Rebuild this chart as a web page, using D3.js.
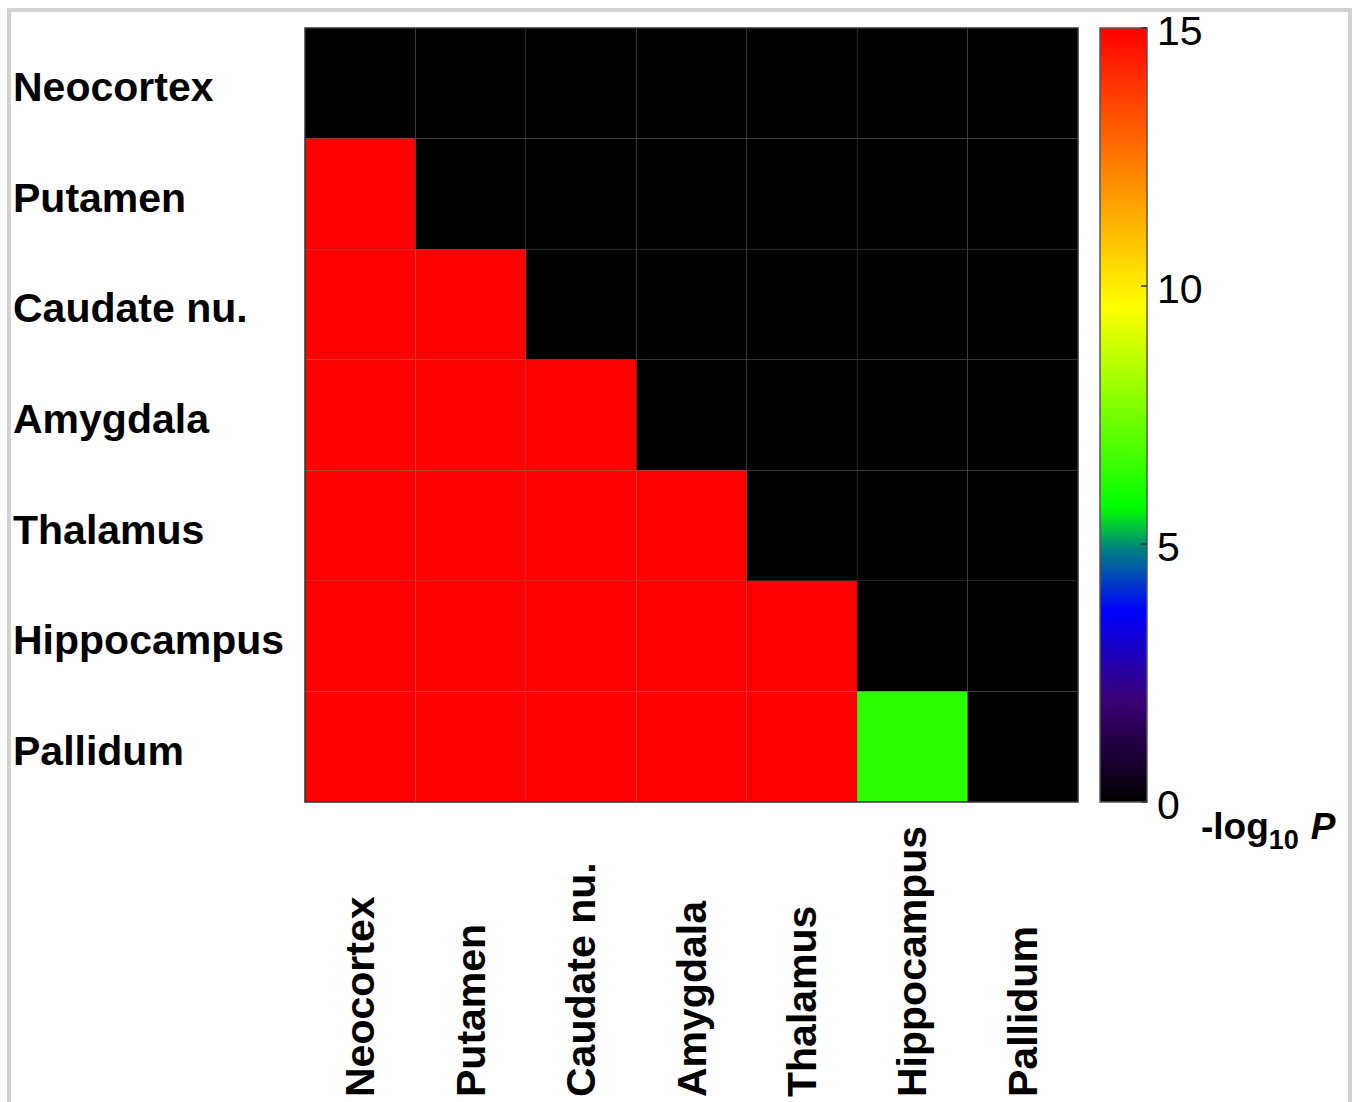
<!DOCTYPE html>
<html>
<head>
<meta charset="utf-8">
<script src="https://cdn.jsdelivr.net/npm/d3@7"></script>
<style>
  html, body { margin: 0; padding: 0; background: #fff; }
  text { font-family: "Liberation Sans", Arial, sans-serif; fill: #000; }
</style>
</head>
<body>
<div id="canvas"></div>
<script>
var regions = ['Neocortex', 'Putamen', 'Caudate nu.', 'Amygdala', 'Thalamus', 'Hippocampus', 'Pallidum']

// -log10 P, rows x columns (clamped at 15 by the colour axis)
var rowNeocortex = [0, 0, 0, 0, 0, 0, 0]
var rowPutamen = [15, 0, 0, 0, 0, 0, 0]
var rowCaudate = [15, 15, 0, 0, 0, 0, 0]
var rowAmygdala = [15, 15, 15, 0, 0, 0, 0]
var rowThalamus = [15, 15, 15, 15, 0, 0, 0]
var rowHippocampus = [15, 15, 15, 15, 15, 0, 0]
var rowPallidum = [15, 15, 15, 15, 15, 6.4, 0]

var colorTicks = [0, 5, 10, 15]
var colorStops = [0, 2, 3.7, 4.9, 5.7, 9.6, 12.3, 15]
var colorValues = ['#000000', '#3c0078', '#0000ff', '#008080', '#00ff00', '#ffff00', '#ff8000', '#ff0000']

var WIDTH = 1362
var HEIGHT = 1102

var matrix = [rowNeocortex, rowPutamen, rowCaudate, rowAmygdala, rowThalamus, rowHippocampus, rowPallidum]

var cells = []
matrix.forEach(function (row, i) {
  row.forEach(function (v, j) {
    cells.push({row: regions[i], col: regions[j], value: v})
  })
})

var svg = d3.select('#canvas').append('svg')
  .attr('width', WIDTH)
  .attr('height', HEIGHT)

// light grey frame of the original figure
svg.append('path')
  .attr('d', 'M9,' + HEIGHT + 'V10H1350V' + HEIGHT)
  .attr('fill', 'none')
  .attr('stroke', '#d2d2d2')
  .attr('stroke-width', 4)

var x = d3.scaleBand().domain(regions).range([305, 1078])
var y = d3.scaleBand().domain(regions).range([28, 802])

var color = d3.scaleLinear()
  .domain(colorStops)
  .range(colorValues)
  .clamp(true)

var heat = svg.append('g')

heat.selectAll('rect.cell')
  .data(cells)
  .enter().append('rect')
  .attr('class', 'cell')
  .attr('x', function (d) { return x(d.col) })
  .attr('y', function (d) { return y(d.row) })
  .attr('width', x.bandwidth())
  .attr('height', y.bandwidth())
  .attr('fill', function (d) { return color(d.value) })

// faint grid between cells
heat.selectAll('line.vgrid')
  .data(regions.slice(1))
  .enter().append('line')
  .attr('x1', function (d) { return x(d) })
  .attr('x2', function (d) { return x(d) })
  .attr('y1', 28)
  .attr('y2', 802)
  .attr('stroke', 'rgba(60,60,60,0.3)')

heat.selectAll('line.hgrid')
  .data(regions.slice(1))
  .enter().append('line')
  .attr('y1', function (d) { return y(d) })
  .attr('y2', function (d) { return y(d) })
  .attr('x1', 305)
  .attr('x2', 1078)
  .attr('stroke', 'rgba(60,60,60,0.3)')

heat.append('rect')
  .attr('x', 305)
  .attr('y', 28)
  .attr('width', 773)
  .attr('height', 774)
  .attr('fill', 'none')
  .attr('stroke', '#333')
  .attr('stroke-width', 1.5)

// row labels
svg.selectAll('text.rowlab')
  .data(regions)
  .enter().append('text')
  .attr('class', 'rowlab')
  .attr('x', 13)
  .attr('y', function (d) { return y(d) + y.bandwidth() / 2 + 18 })
  .attr('font-size', 41)
  .attr('font-weight', 'bold')
  .text(function (d) { return d })

// column labels, rotated and bottom aligned
svg.selectAll('text.collab')
  .data(regions)
  .enter().append('text')
  .attr('class', 'collab')
  .attr('transform', function (d) {
    return 'translate(' + (x(d) + x.bandwidth() / 2 + 14) + ',1097) rotate(-90)'
  })
  .attr('font-size', 41)
  .attr('font-weight', 'bold')
  .text(function (d) { return d })

// colour bar
var cy = d3.scaleLinear().domain([0, 15]).range([802, 28])

var grad = svg.append('defs').append('linearGradient')
  .attr('id', 'cbar')
  .attr('x1', 0).attr('x2', 0)
  .attr('y1', 1).attr('y2', 0)

grad.selectAll('stop')
  .data(colorStops)
  .enter().append('stop')
  .attr('offset', function (d) { return d / 15 })
  .attr('stop-color', function (d) { return color(d) })

var cbar = svg.append('g')

cbar.append('rect')
  .attr('x', 1100)
  .attr('y', cy(15))
  .attr('width', 47)
  .attr('height', cy(0) - cy(15))
  .attr('fill', 'url(#cbar)')
  .attr('stroke', '#555')
  .attr('stroke-width', 1.5)

cbar.selectAll('line.ctick')
  .data(colorTicks)
  .enter().append('line')
  .attr('x1', 1147)
  .attr('x2', 1141)
  .attr('y1', function (d) { return cy(d) })
  .attr('y2', function (d) { return cy(d) })
  .attr('stroke', '#333')
  .attr('stroke-width', 1.5)

cbar.selectAll('text.clab')
  .data(colorTicks)
  .enter().append('text')
  .attr('x', 1157)
  .attr('y', function (d) { return cy(d) + 6 })
  .attr('dominant-baseline', 'middle')
  .attr('font-size', 41)
  .text(function (d) { return d })

var title = cbar.append('text')
  .attr('x', 1201)
  .attr('y', 839)
  .attr('font-size', 37)
  .attr('font-weight', 'bold')

title.append('tspan').text('-log')
title.append('tspan').attr('font-size', 27).attr('dy', 10).text('10')
title.append('tspan').attr('dy', -10).attr('dx', 12).attr('font-style', 'italic').text('P')
</script>
</body>
</html>
